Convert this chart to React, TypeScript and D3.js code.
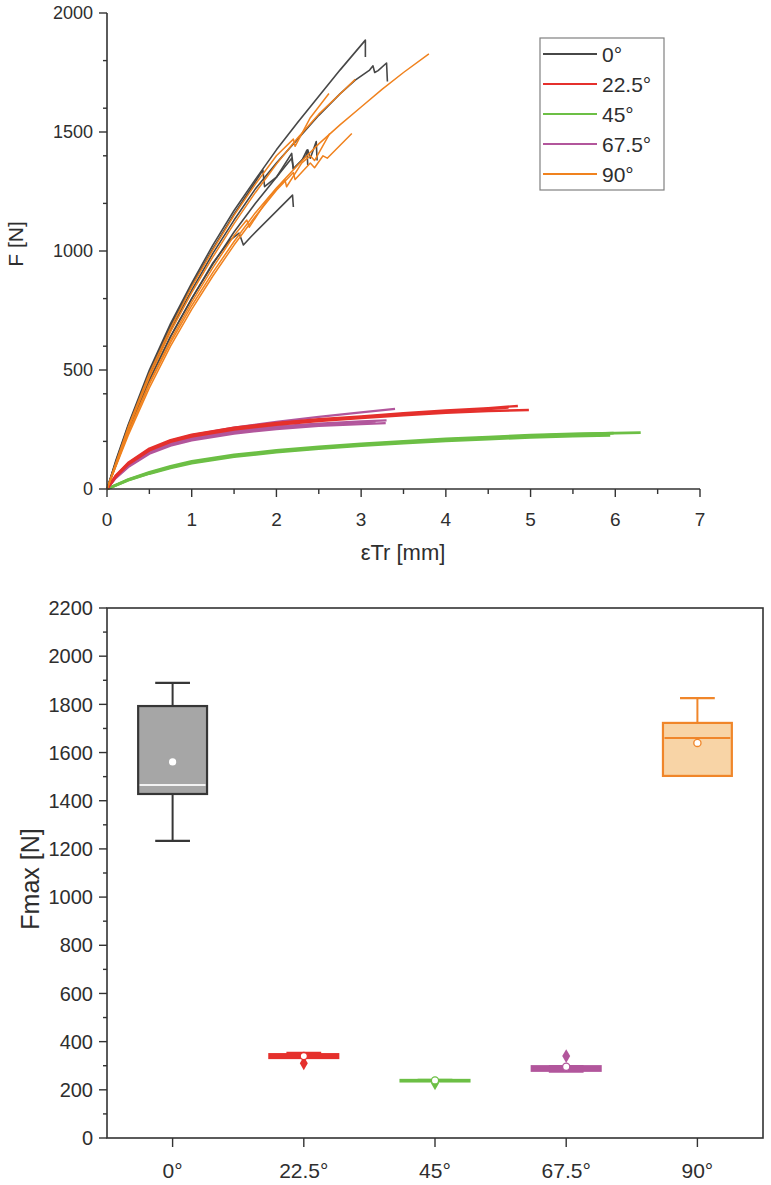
import React from 'react';
import * as d3 from 'd3';

type Pt = [number, number];

// ---------- Top chart: force vs. strain curves ----------
const curves0deg: Pt[][] = [
  [[0,0],[0.1,115],[0.25,270],[0.5,500],[0.75,695],[1,865],[1.25,1025],[1.5,1170],[1.75,1300],[2,1425],[2.25,1540],[2.5,1650],[2.75,1760],[3.05,1886],[3.05,1815]],
  [[0,0],[0.1,105],[0.25,255],[0.5,480],[0.75,670],[1,835],[1.25,990],[1.5,1130],[1.75,1260],[2,1370],[2.25,1470],[2.5,1570],[2.75,1660],[2.93,1718],[3.1,1760],[3.14,1778],[3.16,1750],[3.2,1758],[3.3,1790],[3.31,1712]],
  [[0,0],[0.1,110],[0.25,265],[0.5,490],[0.75,685],[1,855],[1.25,1010],[1.5,1155],[1.75,1290],[1.84,1340],[1.86,1270],[2.0,1310],[2.18,1410],[2.2,1345],[2.35,1400],[2.37,1425],[2.4,1390],[2.47,1460],[2.48,1380]],
  [[0,0],[0.1,100],[0.25,245],[0.5,460],[0.75,640],[1,800],[1.25,950],[1.45,1045],[1.56,1075],[1.61,1025],[1.7,1060],[2.19,1235],[2.2,1185]],
  [[0,0],[0.1,95],[0.25,240],[0.5,455],[0.75,640],[1,800],[1.25,945],[1.5,1080],[1.75,1200],[2.0,1310],[2.18,1390],[2.2,1345],[2.3,1380],[2.36,1424],[2.37,1360]],
];
const curves22deg: Pt[][] = [
  [[0,0],[0.1,55],[0.25,110],[0.5,170],[0.75,205],[1,228],[1.5,258],[2,278],[2.5,293],[3,305],[3.5,318],[4,330],[4.5,340],[4.85,349]],
  [[0,0],[0.1,50],[0.25,103],[0.5,162],[0.75,198],[1,220],[1.5,250],[2,270],[2.5,285],[3,298],[3.5,310],[4,320],[4.5,328],[4.98,332]],
  [[0,0],[0.1,52],[0.25,107],[0.5,166],[0.75,202],[1,225],[1.5,255],[2,275],[2.5,290],[3,302],[3.5,315],[4,326],[4.5,336],[4.74,342]],
];
const curves45deg: Pt[][] = [
  [[0,0],[0.25,40],[0.5,70],[0.75,95],[1,116],[1.5,143],[2,162],[2.5,177],[3,190],[3.5,200],[4,210],[4.5,218],[5,226],[5.5,231],[6,235],[6.3,237]],
  [[0,0],[0.25,38],[0.5,67],[0.75,92],[1,112],[1.5,139],[2,158],[2.5,173],[3,186],[3.5,197],[4,207],[4.5,215],[5,223],[5.5,229],[5.98,235]],
  [[0,0],[0.25,37],[0.5,65],[0.75,89],[1,109],[1.5,136],[2,155],[2.5,170],[3,182],[3.5,193],[4,202],[4.5,210],[5,217],[5.5,222],[5.94,225]],
];
const curves67deg: Pt[][] = [
  [[0,0],[0.1,52],[0.25,105],[0.5,165],[0.75,202],[1,226],[1.5,258],[2,282],[2.5,303],[3,322],[3.4,337]],
  [[0,0],[0.1,45],[0.25,92],[0.5,148],[0.75,182],[1,204],[1.5,233],[2,252],[2.5,265],[3,273],[3.29,277]],
  [[0,0],[0.1,47],[0.25,96],[0.5,152],[0.75,187],[1,209],[1.5,238],[2,258],[2.5,270],[3,280],[3.17,283]],
  [[0,0],[0.1,48],[0.25,99],[0.5,156],[0.75,192],[1,214],[1.5,244],[2,263],[2.5,275],[3,284],[3.3,288]],
];
const curves90deg: Pt[][] = [
  [[0,0],[0.1,95],[0.25,235],[0.5,440],[0.75,615],[1,770],[1.25,910],[1.5,1040],[1.75,1160],[2,1265],[2.25,1360],[2.5,1450],[2.75,1530],[3,1605],[3.25,1680],[3.5,1750],[3.8,1828]],
  [[0,0],[0.1,100],[0.25,250],[0.5,470],[0.75,660],[1,825],[1.25,975],[1.5,1115],[1.75,1245],[2,1365],[2.25,1475],[2.5,1575],[2.75,1660],[2.93,1721]],
  [[0,0],[0.1,105],[0.25,260],[0.5,485],[0.75,675],[1,850],[1.25,1005],[1.5,1150],[1.75,1280],[2,1400],[2.2,1470],[2.22,1440],[2.4,1560],[2.62,1662]],
  [[0,0],[0.1,90],[0.25,225],[0.5,425],[0.75,600],[1,755],[1.25,895],[1.5,1025],[1.75,1145],[2,1255],[2.2,1330],[2.22,1300],[2.4,1370],[2.45,1350],[2.55,1400],[2.6,1390],[2.89,1494]],
  [[0,0],[0.1,95],[0.25,235],[0.5,445],[0.75,625],[1,785],[1.25,930],[1.5,1065],[1.65,1130],[1.68,1100],[1.9,1220],[2.1,1300],[2.12,1270],[2.3,1370],[2.4,1400],[2.45,1380],[2.63,1494]],
];

const legendLabels = ['0°', '22.5°', '45°', '67.5°', '90°'];
const seriesColors = ['#474747', '#e5302c', '#6cbf45', '#b2569c', '#f0821e'];

// ---------- Bottom chart: Fmax box plots ----------
const categories = ['0°', '22.5°', '45°', '67.5°', '90°'];
const whiskerLow = [1233, 332, 237, 275, 1503];
const quart1 = [1428, 332, 237, 279, 1503];
const medians = [1465, 340, 239, 288, 1660];
const quart3 = [1793, 348, 241, 298, 1723];
const whiskerHigh = [1889, 353, 241, 298, 1826];
const means = [1561, 340, 239, 296, 1640];
const outliers: number[][] = [[], [310], [227], [340], []];
const boxFills = ['#a6a6a6', '#e5302c', '#6cbf45', '#b2569c', '#f8d4a6'];
const boxStrokes = ['#363636', '#e5302c', '#6cbf45', '#b2569c', '#f0862a'];
const medianColors = ['#f2f2f2', '#e5302c', '#6cbf45', '#b2569c', '#f0862a'];

const FONT = "'Liberation Sans', Arial, Helvetica, sans-serif";
const TXT = '#2e2e2e';
const AX = '#333333';

export default function App() {
  // top chart scales
  const xT = d3.scaleLinear().domain([0, 7]).range([107, 700]);
  const yT = d3.scaleLinear().domain([0, 2000]).range([489, 13]);
  const line = d3.line<Pt>().x(d => xT(d[0])).y(d => yT(d[1])).curve(d3.curveLinear);

  const groups = [
    { curves: curves0deg, color: seriesColors[0], w: 1.6 },
    { curves: curves45deg, color: seriesColors[2], w: 2.8 },
    { curves: curves67deg, color: seriesColors[3], w: 2.3 },
    { curves: curves22deg, color: seriesColors[1], w: 2.4 },
    { curves: curves90deg, color: seriesColors[4], w: 1.5 },
  ];

  const yTMajor = yT.ticks(4);
  const yTMinor = yT.ticks(8).filter(v => !yTMajor.includes(v));
  const xTMajor = xT.ticks(7);
  const xTMinor = xT.ticks(14).filter(v => !xTMajor.includes(v));

  // bottom chart scales
  const xB = d3.scaleBand<string>().domain(categories).range([107, 763]);
  const bw = xB.bandwidth();
  const cx = (c: string) => (xB(c) as number) + bw / 2;
  const yB = d3.scaleLinear().domain([0, 2200]).range([1138, 608]);
  const yBMajor = yB.ticks(11);
  const yBMinor = yB.ticks(22).filter(v => !yBMajor.includes(v));
  const boxW = bw * 0.525;
  const capW = bw * 0.265;

  const diamond = d3.symbol().type(d3.symbolDiamond).size(55)();

  return (
    <svg width={771} height={1185} style={{ position: 'absolute', left: 0, top: 0, background: '#fff' }} fontFamily={FONT}>
      <rect x={0} y={0} width={771} height={1185} fill="#fff" />
      {/* ---------------- TOP CHART ---------------- */}
      <g>
        {groups.map((g, gi) =>
          g.curves.map((c, ci) => (
            <path key={`c${gi}-${ci}`} d={line(c) || ''} fill="none" stroke={g.color} strokeWidth={g.w} strokeLinejoin="round" />
          ))
        )}
        {/* axes */}
        <line x1={107} x2={107} y1={yT(2000)} y2={yT(0)} stroke={AX} strokeWidth={1.6} />
        <line x1={107} x2={xT(7)} y1={489} y2={489} stroke={AX} strokeWidth={1.6} />
        {yTMajor.map(v => (
          <g key={`ytm${v}`}>
            <line x1={99} x2={107} y1={yT(v)} y2={yT(v)} stroke={AX} strokeWidth={1.4} />
            <text x={93} y={yT(v)} dy="0.36em" textAnchor="end" fontSize={18} fill={TXT}>{v}</text>
          </g>
        ))}
        {yTMinor.map(v => (
          <line key={`ytn${v}`} x1={103} x2={107} y1={yT(v)} y2={yT(v)} stroke={AX} strokeWidth={1.4} />
        ))}
        {xTMajor.map(v => (
          <g key={`xtm${v}`}>
            <line x1={xT(v)} x2={xT(v)} y1={489} y2={497} stroke={AX} strokeWidth={1.4} />
            <text x={xT(v)} y={526} textAnchor="middle" fontSize={19} fill={TXT}>{v}</text>
          </g>
        ))}
        {xTMinor.map(v => (
          <line key={`xtn${v}`} x1={xT(v)} x2={xT(v)} y1={489} y2={494} stroke={AX} strokeWidth={1.4} />
        ))}
        <text x={403} y={560} textAnchor="middle" fontSize={22} fill={TXT}>εTr [mm]</text>
        <text transform={`translate(23,244) rotate(-90)`} textAnchor="middle" fontSize={21} fill={TXT}>F [N]</text>

        {/* legend */}
        <rect x={540} y={38} width={124} height={152} fill="#fff" stroke="#808080" strokeWidth={1.2} />
        {legendLabels.map((l, i) => (
          <g key={`lg${i}`}>
            <line x1={543} x2={597} y1={54 + i * 30} y2={54 + i * 30} stroke={seriesColors[i]} strokeWidth={2} />
            <text x={602} y={54 + i * 30} dy="0.36em" fontSize={21} fill={TXT}>{l}</text>
          </g>
        ))}
      </g>

      {/* ---------------- BOTTOM CHART ---------------- */}
      <g>
        <rect x={107} y={608} width={656} height={530} fill="none" stroke={AX} strokeWidth={1.6} />
        {yBMajor.map(v => (
          <g key={`ybm${v}`}>
            <line x1={99} x2={107} y1={yB(v)} y2={yB(v)} stroke={AX} strokeWidth={1.4} />
            <text x={93} y={yB(v)} dy="0.36em" textAnchor="end" fontSize={20} fill={TXT}>{v}</text>
          </g>
        ))}
        {yBMinor.map(v => (
          <line key={`ybn${v}`} x1={103} x2={107} y1={yB(v)} y2={yB(v)} stroke={AX} strokeWidth={1.4} />
        ))}
        {categories.map(c => (
          <g key={`xb${c}`}>
            <line x1={cx(c)} x2={cx(c)} y1={1138} y2={1147} stroke={AX} strokeWidth={1.4} />
            <text x={cx(c)} y={1178} textAnchor="middle" fontSize={21} fill={TXT}>{c}</text>
          </g>
        ))}
        <text transform={`translate(39,${(yB(0) + yB(2200)) / 2 + 6}) rotate(-90)`} textAnchor="middle" fontSize={25} fill={TXT}>Fmax [N]</text>

        {categories.map((c, i) => {
          const x = cx(c);
          const st = boxStrokes[i];
          const hTop = Math.max(yB(quart1[i]) - yB(quart3[i]), 1.5);
          return (
            <g key={`box${c}`}>
              {/* whiskers */}
              <line x1={x} x2={x} y1={yB(whiskerHigh[i])} y2={yB(quart3[i])} stroke={st} strokeWidth={2} />
              <line x1={x} x2={x} y1={yB(quart1[i])} y2={yB(whiskerLow[i])} stroke={st} strokeWidth={2} />
              <line x1={x - capW / 2} x2={x + capW / 2} y1={yB(whiskerHigh[i])} y2={yB(whiskerHigh[i])} stroke={st} strokeWidth={2.2} />
              <line x1={x - capW / 2} x2={x + capW / 2} y1={yB(whiskerLow[i])} y2={yB(whiskerLow[i])} stroke={st} strokeWidth={2.2} />
              {/* box */}
              <rect x={x - boxW / 2} y={yB(quart3[i])} width={boxW} height={hTop} fill={boxFills[i]} stroke={st} strokeWidth={2.2} />
              <line x1={x - boxW / 2 + 1.5} x2={x + boxW / 2 - 1.5} y1={yB(medians[i])} y2={yB(medians[i])} stroke={medianColors[i]} strokeWidth={2} />
              {/* outliers */}
              {outliers[i].map((o, k) => (
                <path key={`o${k}`} d={diamond || ''} transform={`translate(${x},${yB(o)})`} fill={st} />
              ))}
              {/* mean */}
              <circle cx={x} cy={yB(means[i])} r={3.6} fill="#fff" stroke={i === 0 ? 'none' : st} strokeWidth={1.3} />
            </g>
          );
        })}
      </g>
    </svg>
  );
}
